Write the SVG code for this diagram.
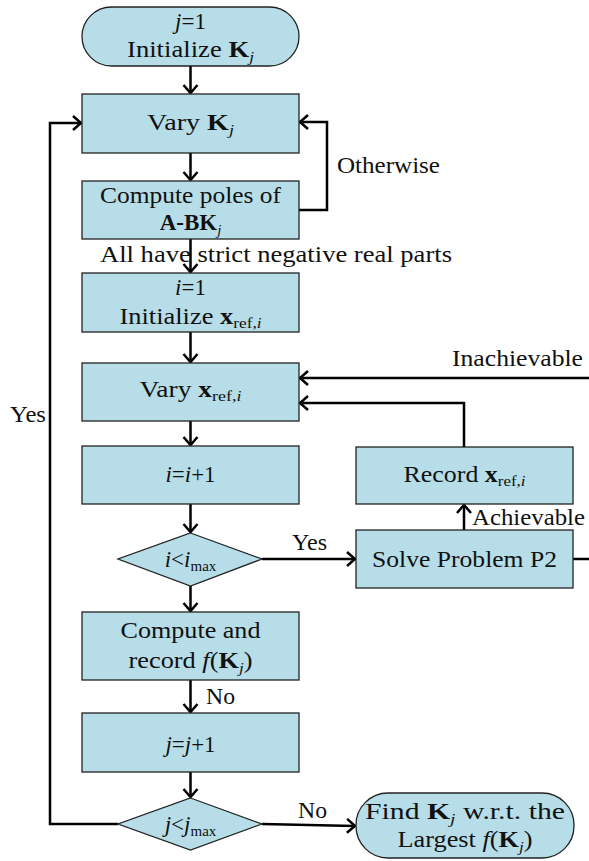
<svg xmlns="http://www.w3.org/2000/svg" width="589" height="861" viewBox="0 0 589 861" font-family="'Liberation Serif', 'DejaVu Serif', serif">
<style>
.n{fill:#b7dee8;stroke:#222;stroke-width:1.3}
.c{fill:none;stroke:#000;stroke-width:2.5}
text{font-family:"Liberation Serif","DejaVu Serif",serif;font-size:23px;fill:#111}
.m{text-anchor:middle}
.i{font-style:italic}
.b{font-weight:bold}
.s{font-size:15px}
</style>
<defs>
<marker id="a" markerUnits="userSpaceOnUse" markerWidth="20" markerHeight="20" viewBox="-10 -10 20 20" refX="0" refY="0" orient="auto">
<path d="M-8,-7 L0,0 L-8,7" fill="none" stroke="#000" stroke-width="2.5"/>
</marker>
</defs>
<rect width="589" height="861" fill="#fff"/>
<g id="connectors" class="c" marker-end="url(#a)">
<path d="M190.5,66 V93"/>
<path d="M190.5,153 V180"/>
<path d="M299,210 H327 V122 H300"/>
<path d="M190.5,239 V272"/>
<path d="M190.5,332 V362"/>
<path d="M589,378 H300"/>
<path d="M464,447 V403 H300"/>
<path d="M190.5,421 V445"/>
<path d="M190.5,504 V532"/>
<path d="M262,559 H355"/>
<path d="M464,530 V505"/>
<path d="M573,559 H589" marker-end="none"/>
<path d="M190.5,586 V611"/>
<path d="M190.5,680 V712"/>
<path d="M190.5,772 V797"/>
<path d="M118,824 H50 V123 H81"/>
<path d="M262,824 L355,826"/>
</g>
<g id="start">
<rect class="n" x="82" y="7" width="217" height="59" rx="29.5"/>
<text class="m" x="190.5" y="29"><tspan class="i">j</tspan>=1</text>
<text class="m" x="190.5" y="57" textLength="127" lengthAdjust="spacingAndGlyphs">Initialize <tspan class="b">K</tspan><tspan class="i s" baseline-shift="-5">j</tspan></text>
</g>
<g id="varyK">
<rect class="n" x="82" y="94" width="217" height="59"/>
<text class="m" x="190.5" y="130" textLength="87" lengthAdjust="spacingAndGlyphs">Vary <tspan class="b">K</tspan><tspan class="i s" baseline-shift="-5">j</tspan></text>
</g>
<g id="poles">
<rect class="n" x="82" y="181" width="217" height="58"/>
<text class="m" x="190.5" y="203" textLength="181" lengthAdjust="spacingAndGlyphs">Compute poles of</text>
<text class="m" x="190.5" y="230"><tspan class="b">A-BK</tspan><tspan class="i s" baseline-shift="-5">j</tspan></text>
</g>
<g id="initX">
<rect class="n" x="82" y="273" width="217" height="59"/>
<text class="m" x="190.5" y="295"><tspan class="i">i</tspan>=1</text>
<text class="m" x="190.5" y="324" textLength="142" lengthAdjust="spacingAndGlyphs">Initialize <tspan class="b">x</tspan><tspan class="s" baseline-shift="-4">ref,<tspan class="i">i</tspan></tspan></text>
</g>
<g id="varyX">
<rect class="n" x="82" y="363" width="217" height="58"/>
<text class="m" x="190.5" y="397" textLength="102" lengthAdjust="spacingAndGlyphs">Vary <tspan class="b">x</tspan><tspan class="s" baseline-shift="-4">ref,<tspan class="i">i</tspan></tspan></text>
</g>
<g id="incI">
<rect class="n" x="82" y="446" width="217" height="58"/>
<text class="m" x="190.5" y="482"><tspan class="i">i</tspan>=<tspan class="i">i</tspan>+1</text>
</g>
<g id="decI">
<polygon class="n" points="190.5,533 262,559 190.5,586 118,559"/>
<text class="m" x="190.5" y="567"><tspan class="i">i</tspan>&lt;<tspan class="i">i</tspan><tspan class="s" baseline-shift="-4">max</tspan></text>
</g>
<g id="record">
<rect class="n" x="356" y="447" width="217" height="57"/>
<text class="m" x="464.5" y="482" textLength="122" lengthAdjust="spacingAndGlyphs">Record <tspan class="b">x</tspan><tspan class="s" baseline-shift="-4">ref,<tspan class="i">i</tspan></tspan></text>
</g>
<g id="solve">
<rect class="n" x="356" y="530" width="217" height="58"/>
<text class="m" x="464.5" y="567" textLength="185" lengthAdjust="spacingAndGlyphs">Solve Problem P2</text>
</g>
<g id="computeF">
<rect class="n" x="82" y="612" width="217" height="68"/>
<text class="m" x="190.5" y="638" textLength="140" lengthAdjust="spacingAndGlyphs">Compute and</text>
<text class="m" x="190.5" y="668" textLength="124" lengthAdjust="spacingAndGlyphs">record <tspan class="i">f</tspan>(<tspan class="b">K</tspan><tspan class="i s" baseline-shift="-5">j</tspan>)</text>
</g>
<g id="incJ">
<rect class="n" x="82" y="713" width="217" height="59"/>
<text class="m" x="190.5" y="752"><tspan class="i">j</tspan>=<tspan class="i">j</tspan>+1</text>
</g>
<g id="decJ">
<polygon class="n" points="190.5,798 262,824 190.5,850 118,824"/>
<text class="m" x="190.5" y="832"><tspan class="i">j</tspan>&lt;<tspan class="i">j</tspan><tspan class="s" baseline-shift="-4">max</tspan></text>
</g>
<g id="end">
<rect class="n" x="356" y="793" width="218" height="65" rx="32"/>
<text class="m" x="465" y="819" textLength="200" lengthAdjust="spacingAndGlyphs">Find <tspan class="b">K</tspan><tspan class="i s" baseline-shift="-5">j</tspan> w.r.t. the</text>
<text class="m" x="465" y="847" textLength="135" lengthAdjust="spacingAndGlyphs">Largest <tspan class="i">f</tspan>(<tspan class="b">K</tspan><tspan class="i s" baseline-shift="-5">j</tspan>)</text>
</g>
<g id="labels">
<text x="337" y="173" textLength="103" lengthAdjust="spacingAndGlyphs">Otherwise</text>
<text x="100" y="262" textLength="352" lengthAdjust="spacingAndGlyphs">All have strict negative real parts</text>
<text x="452" y="366" textLength="131" lengthAdjust="spacingAndGlyphs">Inachievable</text>
<text x="10" y="422" textLength="36" lengthAdjust="spacingAndGlyphs">Yes</text>
<text x="472" y="525" textLength="113" lengthAdjust="spacingAndGlyphs">Achievable</text>
<text x="292" y="550" textLength="35" lengthAdjust="spacingAndGlyphs">Yes</text>
<text x="206" y="704" textLength="29" lengthAdjust="spacingAndGlyphs">No</text>
<text x="298" y="818" textLength="29" lengthAdjust="spacingAndGlyphs">No</text>
</g>
</svg>
